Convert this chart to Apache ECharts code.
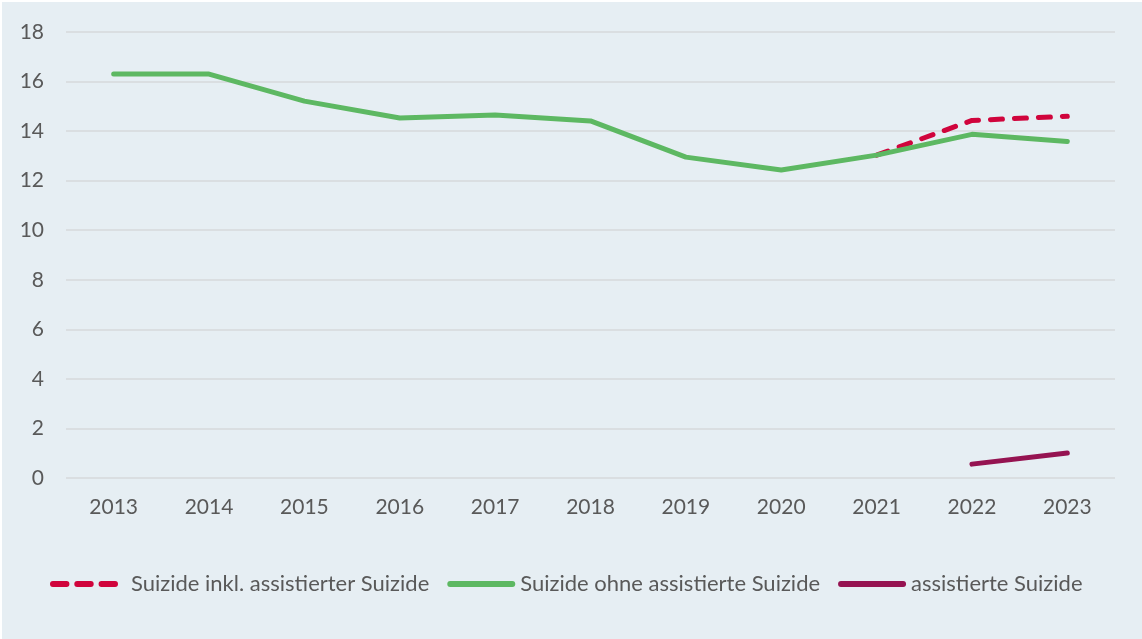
<!DOCTYPE html>
<html><head><meta charset="utf-8">
<script src="https://cdn.jsdelivr.net/npm/echarts@6/dist/echarts.min.js"></script>
<style>html,body{margin:0;padding:0;background:#fff}#c{position:absolute;left:2px;top:2px;width:1140px;height:637px;background:#e6eef3}</style>
</head><body><div id="c"></div>
<script>
const years = ['2013','2014','2015','2016','2017','2018','2019','2020','2021','2022','2023'];
const inklAssistiert = [null,null,null,null,null,null,null,null,13.03,14.43,14.6];
const ohneAssistiert = [16.3,16.3,15.21,14.53,14.65,14.41,12.95,12.43,13.03,13.87,13.58];
const assistiert = [null,null,null,null,null,null,null,null,null,0.56,1.01];
const names = ['Suizide inkl. assistierter Suizide','Suizide ohne assistierte Suizide','assistierte Suizide'];
const font = 'Lato, "Open Sans", sans-serif';
const dashIcon = 'path://M3,0H17A3,3 0 0 1 17,6H3A3,3 0 0 1 3,0Z M28,0H42A3,3 0 0 1 42,6H28A3,3 0 0 1 28,0Z M53,0H67A3,3 0 0 1 67,6H53A3,3 0 0 1 53,0Z';
const solidIcon = 'path://M3,0H67A3,3 0 0 1 67,6H3A3,3 0 0 1 3,0Z';
const chart = echarts.init(document.getElementById('c'));
chart.setOption({
  backgroundColor:'#e6eef3',
  animation:false,
  grid:{left:64,right:27,top:30,bottom:161},
  xAxis:{type:'category',data:years,boundaryGap:true,
    axisLine:{show:false},axisTick:{show:false},
    axisLabel:{color:'#595959',fontSize:21,fontFamily:font,margin:19}},
  yAxis:{type:'value',min:0,max:18,interval:2,
    axisLine:{show:false},axisTick:{show:false},
    splitLine:{lineStyle:{color:'#d6d9db',width:1.5}},
    axisLabel:{color:'#595959',fontSize:21,fontFamily:font,margin:22}},
  legend:{top:566,left:43,itemWidth:68,itemHeight:6,itemGap:18,
    textStyle:{color:'#595959',fontSize:22,fontFamily:font},
    data:[
      {name:names[0],icon:dashIcon,itemStyle:{color:'#d0043c'},textStyle:{padding:[0,0,0,8]}},
      {name:names[1],icon:solidIcon,itemStyle:{color:'#5db862'}},
      {name:names[2],icon:solidIcon,itemStyle:{color:'#951351'}}
    ]},
  series:[
    {name:names[1],type:'line',data:ohneAssistiert,symbol:'none',connectNulls:false,
      lineStyle:{color:'#5db862',width:5,cap:'round',join:'round'},itemStyle:{color:'#5db862'},z:2},
    {name:names[0],type:'line',data:inklAssistiert,symbol:'none',
      lineStyle:{color:'#d0043c',width:5,type:[12,12],cap:'round',join:'round'},itemStyle:{color:'#d0043c'},z:1},
    {name:names[2],type:'line',data:assistiert,symbol:'none',
      lineStyle:{color:'#951351',width:5,cap:'round'},itemStyle:{color:'#951351'},z:3}
  ]
});
</script></body></html>
